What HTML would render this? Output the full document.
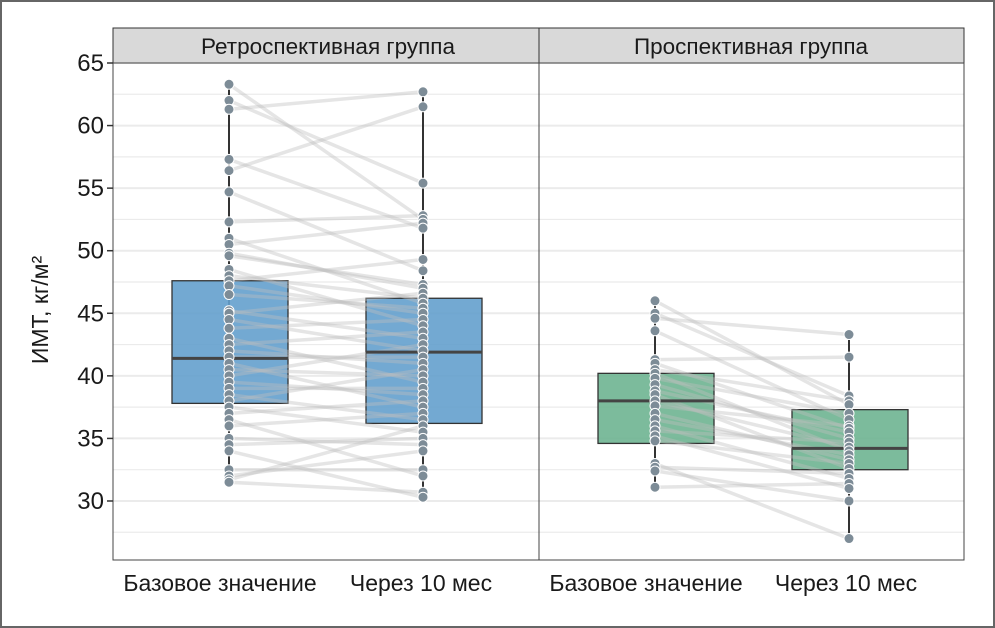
<!DOCTYPE html><html><head><meta charset="utf-8"><style>
body{margin:0;background:#fff}
svg{display:block;font-family:"Liberation Sans",sans-serif}
</style></head><body>
<svg id="s" width="995" height="628" viewBox="0 0 995 628" xmlns="http://www.w3.org/2000/svg">
<rect x="1" y="1" width="993" height="626" fill="#fff" stroke="#666" stroke-width="2"/>
<g id="grid"></g>
<rect x="113" y="28" width="426" height="35" fill="#d9d9d9" stroke="#333" stroke-width="1"/>
<rect x="539" y="28" width="425" height="35" fill="#d9d9d9" stroke="#333" stroke-width="1"/>
<text x="328" y="54" font-size="22.5" text-anchor="middle" fill="#1a1a1a">Ретроспективная группа</text>
<text x="751" y="54" font-size="22.5" text-anchor="middle" fill="#1a1a1a">Проспективная группа</text>
<g id="plot"></g>
<rect x="113" y="63" width="426" height="497" fill="none" stroke="#444" stroke-width="1"/>
<rect x="539" y="63" width="425" height="497" fill="none" stroke="#444" stroke-width="1"/>
<g id="ticks" font-size="24" fill="#1a1a1a" text-anchor="end"></g>
<text transform="translate(48,310) rotate(-90)" font-size="23" text-anchor="middle" fill="#1a1a1a">ИМТ, кг/м²</text>
<g font-size="23" fill="#1a1a1a" text-anchor="middle">
<text x="220" y="591">Базовое значение</text><text x="421" y="591">Через 10 мес</text>
<text x="646" y="591">Базовое значение</text><text x="846" y="591">Через 10 мес</text>
</g>
</svg>
<script>
const NS="http://www.w3.org/2000/svg";
const Y=v=>63+(65-v)*12.514;
function el(p,t,a){const e=document.createElementNS(NS,t);for(const k in a)e.setAttribute(k,a[k]);p.appendChild(e);return e;}
const g=document.getElementById('grid'),tk=document.getElementById('ticks'),pl=document.getElementById('plot');
for(let v=27.5;v<=65;v+=2.5){const maj=v%5===0;
 el(g,'line',{x1:113,x2:964,y1:Y(v),y2:Y(v),stroke:'#ebebeb','stroke-width':maj?2:1.2});
 if(maj&&v>=30){el(tk,'line',{x1:107,x2:113,y1:Y(v),y2:Y(v),stroke:'#333','stroke-width':1.5});
 const t=el(tk,'text',{x:104,y:Y(v)+8});t.textContent=v;}}
function panel(xb,xa,base,after,col,bq,aq){
 const n=Math.min(base.length,after.length);
 const bs=[...base].sort((a,b)=>b-a),as=[...after].sort((a,b)=>b-a);
 const perm=[...Array(n).keys()];
 for(let i=0;i<n;i++){const j=Math.min(n-1,Math.max(0,i+((i*7)%13)-6));[perm[i],perm[j]]=[perm[j],perm[i]];}
 function box(x,q,mn,mx){
  el(pl,'line',{x1:x,x2:x,y1:Y(mx),y2:Y(mn),stroke:'#333','stroke-width':2});
  el(pl,'rect',{x:x-57,y:Y(q[2]),width:116,height:Y(q[0])-Y(q[2]),fill:col,stroke:'#333','stroke-width':1.3});
 }
 box(xb,bq,Math.min(...base),Math.max(...base));box(xa,aq,Math.min(...after),Math.max(...after));
 for(let i=0;i<n;i++)el(pl,'line',{x1:xb,y1:Y(bs[i]),x2:xa,y2:Y(as[perm[i]]),stroke:'rgba(190,190,190,0.4)','stroke-width':3.5});
 el(pl,'line',{x1:xb-57,x2:xb+59,y1:Y(bq[1]),y2:Y(bq[1]),stroke:'#444','stroke-width':3});
 el(pl,'line',{x1:xa-57,x2:xa+59,y1:Y(aq[1]),y2:Y(aq[1]),stroke:'#444','stroke-width':3});
 for(const v of base)el(pl,'circle',{cx:xb,cy:Y(v),r:5,fill:'#7d8c97',stroke:'#fff','stroke-width':1});
 for(const v of after)el(pl,'circle',{cx:xa,cy:Y(v),r:5,fill:'#7d8c97',stroke:'#fff','stroke-width':1});
}
panel(229,423,
[63.3,62,61.3,57.3,56.4,54.7,52.3,51,50.5,49.8,49.6,48.5,48,47.6,47.2,46.5,45.2,45,44.5,43.8,43,42.5,42,41.5,41,40.5,40,39.5,39,38.5,38,37.5,37,36.5,36,35,34.5,34,32.5,32,31.7,31.5],
[62.7,61.5,55.4,52.8,52.5,52.2,51.8,49.3,48.4,47.3,47,46.6,46.2,45.8,45.4,45,44.5,44,43.5,43,42.5,42,41.5,41,40.5,40,39.5,39,38.5,38,37.5,37,36.5,36,35.5,35,34.5,34,32.5,32,30.7,30.3],
'rgba(100,160,205,0.9)',[37.8,41.4,47.6],[36.2,41.9,46.2]);
panel(655,849,
[46,45,44.6,43.6,41.3,41,40.5,40.2,39.8,39.3,38.8,38.5,38,37.6,37,36.5,36,35.6,35.2,34.8,33,32.7,32.4,31.1],
[43.3,41.5,38.4,38,37.7,37,36.5,36,35.8,35.5,35,34.7,34.3,34,33.7,33.3,33,32.6,32.2,31.8,31.4,31,30,27],
'rgba(110,180,145,0.9)',[34.6,38,40.2],[32.5,34.2,37.3]);
</script>
</body></html>
